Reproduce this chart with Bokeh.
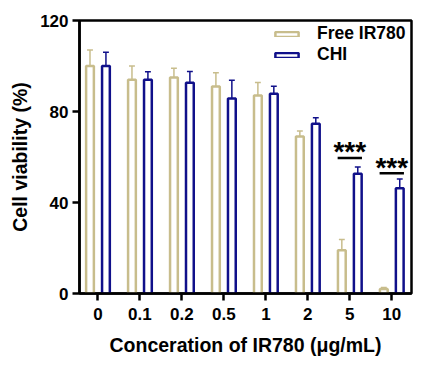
from bokeh.plotting import figure
from bokeh.models import FixedTicker, Legend, LegendItem, ColumnDataSource
from bokeh.core.properties import value
from bokeh.embed import file_html
from bokeh.resources import INLINE

labels = ["0", "0.1", "0.2", "0.5", "1", "2", "5", "10"]
free = [100, 94, 95, 91, 87, 69, 19, 2]
free_sd = [7, 6, 4, 6, 5.7, 2.4, 4.7, 0.6]
chi = [100, 94, 92.6, 85.7, 87.8, 74.6, 52.6, 46.3]
chi_sd = [6, 3.5, 5, 8, 3.3, 2.6, 3, 4]
sig_idx = [6, 7]
sig_y = [59.6, 52.9]
sig_text = ["***", "***"]
y_ticks = [0, 40, 80, 120]

TAN = "#c8bd8c"
NAVY = "#10108a"
FONT = "Liberation Sans"
off = 0.19
bw = 0.185
cap = 0.07

idx = list(range(len(labels)))
xf = [i - off for i in idx]
xc = [i + off for i in idx]

p = figure(width=424, height=364, output_backend="svg", toolbar_location=None,
           x_range=(-0.44, 7.47), y_range=(0, 120),
           min_border_left=79, min_border_top=20, min_border_right=13, min_border_bottom=71)
p.grid.visible = False
p.background_fill_color = "white"
p.border_fill_color = "white"
p.outline_line_color = "black"
p.outline_line_width = 2.5
p.outline_line_alpha = 1

src_f = ColumnDataSource(dict(x=xf, top=free, up=[v + s for v, s in zip(free, free_sd)],
                              x0=[x - cap for x in xf], x1=[x + cap for x in xf]))
src_c = ColumnDataSource(dict(x=xc, top=chi, up=[v + s for v, s in zip(chi, chi_sd)],
                              x0=[x - cap for x in xc], x1=[x + cap for x in xc]))

for src, col in ((src_f, TAN), (src_c, NAVY)):
    p.segment(x0="x", y0="top", x1="x", y1="up", source=src, line_color=col, line_width=1.5)
    p.segment(x0="x0", y0="up", x1="x1", y1="up", source=src, line_color=col, line_width=1.5)

rf = p.vbar(x="x", top="top", bottom=0, width=bw, source=src_f, fill_color="white",
            line_color=TAN, line_width=2.5)
rc = p.vbar(x="x", top="top", bottom=0, width=bw, source=src_c, fill_color="white",
            line_color=NAVY, line_width=2.5)

# significance
p.segment(x0=[i - 0.29 for i in sig_idx], y0=sig_y, x1=[i + 0.29 for i in sig_idx], y1=sig_y,
          line_color="black", line_width=2.5)
p.text(x=sig_idx, y=sig_y, text=sig_text, text_align="center", text_baseline="alphabetic",
       y_offset=-6, text_font=value(FONT), text_font_style="bold", text_font_size="28px",
       text_color="black")

legend = Legend(items=[LegendItem(label="Free IR780", renderers=[rf]),
                       LegendItem(label="CHI", renderers=[rc])],
                location=(193, 228), orientation="vertical")
legend.glyph_width = 29
legend.glyph_height = 6
legend.label_standoff = 16
legend.label_height = 21
legend.spacing = 0
legend.padding = 0
legend.margin = 0
legend.border_line_alpha = 0
legend.background_fill_alpha = 0
legend.label_text_font = FONT
legend.label_text_font_style = "bold"
legend.label_text_font_size = "17.5px"
legend.label_text_color = "black"
p.add_layout(legend)

for ax in (p.xaxis[0], p.yaxis[0]):
    ax.axis_line_width = 2.5
    ax.major_tick_line_width = 2.5
    ax.major_tick_out = 7
    ax.major_tick_in = 0
    ax.minor_tick_line_color = None
    ax.major_label_text_font = FONT
    ax.major_label_text_font_style = "bold"
    ax.major_label_text_font_size = "17px"
    ax.major_label_text_color = "black"
    ax.axis_label_text_font = FONT
    ax.axis_label_text_font_style = "bold"
    ax.axis_label_text_font_size = "19.5px"
    ax.axis_label_text_color = "black"

p.xaxis.ticker = FixedTicker(ticks=idx)
p.xaxis.major_label_overrides = {i: l for i, l in zip(idx, labels)}
p.xaxis.axis_label = "Conceration of IR780 (μg/mL)"
p.xaxis.major_label_standoff = 7
p.xaxis.axis_label_standoff = 11
p.yaxis.ticker = FixedTicker(ticks=y_ticks)
p.yaxis.axis_label = "Cell viability (%)"
p.yaxis.major_label_standoff = 4
p.yaxis.axis_label_standoff = 6

open("out.html", "w").write(file_html(p, INLINE))
